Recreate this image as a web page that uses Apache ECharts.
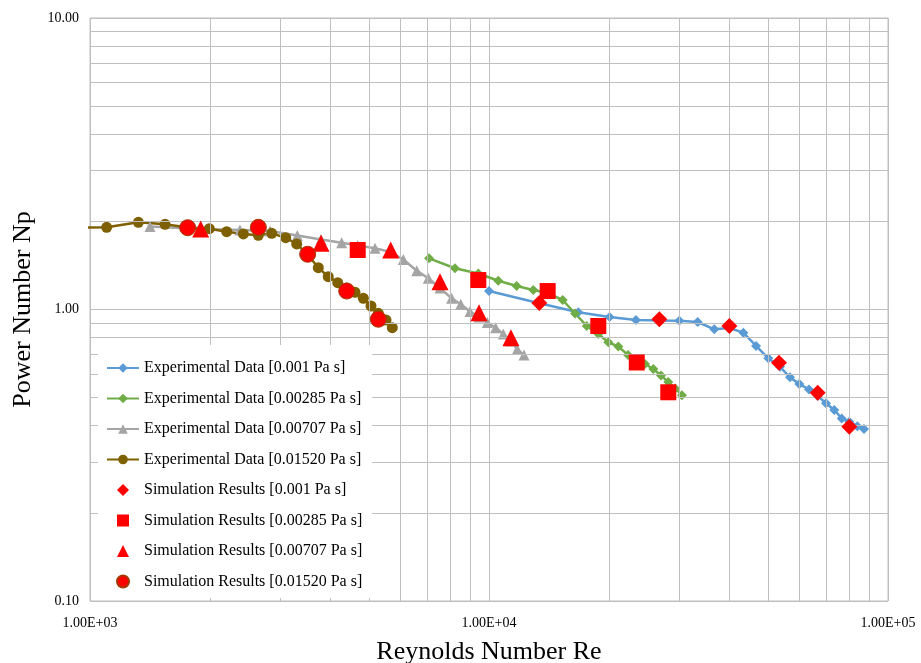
<!DOCTYPE html>
<html>
<head>
<meta charset="utf-8">
<script src="https://cdn.jsdelivr.net/npm/echarts@6/dist/echarts.min.js"></script>
<style>html,body{margin:0;padding:0;background:#fff}#c{width:921px;height:663px}</style>
</head>
<body>
<div id="c"></div>
<script>
// ---- data ----
const reExp001 = [10000,13370,16740,20050,23350,26730,29990,33350,36700,40030,43400,46700,50120,53620,56810,59950,63390,66650,69930,73340,76560,79990,83770,87060];
const npExp001 = [1.157,1.05,0.978,0.942,0.920,0.917,0.915,0.906,0.855,0.864,0.833,0.750,0.680,0.636,0.585,0.555,0.532,0.505,0.477,0.452,0.423,0.412,0.398,0.389];

const reExp00285 = [7075,8217,9402,10550,11730,12910,14030,15300,16430,17580,18790,19910,21100,22310,23460,24600,25810,26980,28140,29300,30450];
const npExp00285 = [1.498,1.385,1.329,1.255,1.204,1.167,1.139,1.078,0.969,0.878,0.824,0.772,0.746,0.698,0.671,0.650,0.625,0.594,0.564,0.536,0.508];

const reExp00707 = [1414,1887,2376,2826,3308,3793,4273,4688,5179,5671,6099,6590,7046,7537,8060,8495,8960,9439,9902,10390,10860,11350,11770,12240];
const npExp00707 = [1.926,1.889,1.874,1.859,1.794,1.739,1.695,1.658,1.622,1.575,1.484,1.359,1.280,1.185,1.092,1.042,0.984,0.943,0.902,0.866,0.824,0.780,0.730,0.698];

const reExp01520 = [881,1101,1322,1542,1760,1991,2201,2423,2642,2854,3094,3296,3519,3734,3955,4177,4399,4614,4842,5061,5280,5520,5723];
const npExp01520 = [1.91,1.914,1.991,1.960,1.911,1.893,1.849,1.816,1.797,1.825,1.763,1.678,1.538,1.391,1.296,1.236,1.185,1.146,1.093,1.028,0.970,0.920,0.866];

const reSim001 = [13370,26730,40030,53320,66650,79990];
const npSim001 = [1.053,0.926,0.878,0.657,0.518,0.396];

const reSim00285 = [4688,9402,14030,18790,23460,28140];
const npSim00285 = [1.600,1.262,1.157,0.878,0.658,0.520];

const reSim00707 = [1894,3793,5671,7537,9439,11350];
const npSim00707 = [1.889,1.687,1.600,1.246,0.975,0.800];

const reSim01520 = [1757,2642,3512,4399,5280];
const npSim01520 = [1.908,1.914,1.547,1.157,0.926];

const xMinorTicks = [2000,3000,4000,5000,6000,7000,8000,9000,20000,30000,40000,50000,60000,70000,80000,90000];
const yMinorTicks = [0.2,0.3,0.4,0.5,0.6,0.7,0.8,0.9,2,3,4,5,6,7,8,9];

const names = [
  'Experimental Data [0.001 Pa s]',
  'Experimental Data [0.00285 Pa s]',
  'Experimental Data [0.00707 Pa s]',
  'Experimental Data [0.01520 Pa s]',
  'Simulation Results [0.001 Pa s]',
  'Simulation Results [0.00285 Pa s]',
  'Simulation Results [0.00707 Pa s]',
  'Simulation Results [0.01520 Pa s]'
];

function zip(a, b) { return a.map((v, i) => [v, b[i]]); }

const FONT = '"Liberation Serif", "Times New Roman", serif';
const GRID = '#BFBFBF';

const ICONS = {
  diamond: 'path://M5,0L10,5L5,10L0,5Z',
  rect: 'path://M0,0L10,0L10,10L0,10Z',
  triangle: 'path://M5,0L10,10L0,10Z',
  circle: 'path://M5,0A5,5,0,1,1,5,10A5,5,0,1,1,5,0Z'
};

function expSeries(name, xs, ys, color, symbol, size) {
  return {
    name, type: 'line', data: zip(xs, ys), symbol, symbolSize: size,
    lineStyle: { color, width: 2.5 }, itemStyle: { color },
    z: 3, animation: false, clip: true
  };
}
function simSeries(name, xs, ys, symbol, size, border) {
  return {
    name, type: 'scatter', data: zip(xs, ys), symbol, symbolSize: size,
    itemStyle: { color: '#FF0000', borderColor: border || '#FF0000', borderWidth: border ? 1 : 0, opacity: 1 },
    z: 5, animation: false
  };
}

const chart = echarts.init(document.getElementById('c'));
chart.setOption({
  animation: false,
  backgroundColor: '#fff',
  grid: { left: 90, right: 33, top: 18, bottom: 62, show: true, borderColor: GRID, borderWidth: 1,
    containLabel: false, outerBoundsMode: 'none' },
  graphic: [{
    type: 'rect', left: 98, top: 345, z: 15, silent: true,
    shape: { width: 274, height: 253 }, style: { fill: '#fff' }
  }],
  xAxis: {
    type: 'log', logBase: 10, min: 1000, max: 100000, interval: 1,
    name: 'Reynolds Number Re', nameLocation: 'middle', nameGap: 38,
    nameTextStyle: { fontFamily: FONT, fontSize: 26, color: '#000' },
    axisLine: { show: false }, axisTick: { show: false },
    axisLabel: { fontFamily: FONT, fontSize: 14, color: '#000', margin: 15,
      formatter: v => { const e = Math.round(Math.log10(v)); const m = v / Math.pow(10, e); return m.toFixed(2) + 'E+' + (e < 10 ? '0' + e : e); } },
    splitLine: { show: true, lineStyle: { color: GRID, width: 1 } }
  },
  yAxis: {
    type: 'log', logBase: 10, min: 0.1, max: 10, interval: 1,
    name: 'Power Number Np', nameLocation: 'middle', nameGap: 36,
    nameTextStyle: { fontFamily: FONT, fontSize: 26, color: '#000' },
    axisLine: { show: false }, axisTick: { show: false },
    axisLabel: { fontFamily: FONT, fontSize: 14, color: '#000', margin: 11, formatter: v => v.toFixed(2) },
    splitLine: { show: true, lineStyle: { color: GRID, width: 1 } }
  },
  legend: {
    orient: 'vertical', left: 98, top: 342, z: 20,
    backgroundColor: 'rgba(0,0,0,0)', padding: [18, 10, 10, 8],
    itemGap: 14.5, itemWidth: 32, itemHeight: 12, symbolKeepAspect: true,
    textStyle: { fontFamily: FONT, fontSize: 16, color: '#000' },
    data: [
      { name: names[0] }, { name: names[1] }, { name: names[2] }, { name: names[3] },
      { name: names[4], icon: ICONS.diamond },
      { name: names[5], icon: ICONS.rect },
      { name: names[6], icon: ICONS.triangle },
      { name: names[7], icon: ICONS.circle }
    ]
  },
  series: [
    {
      name: 'grid-minor', type: 'line', data: [], z: 1, silent: true,
      markLine: {
        silent: true, symbol: 'none', label: { show: false }, animation: false,
        lineStyle: { color: GRID, width: 1, type: 'solid' },
        data: xMinorTicks.map(v => ({ xAxis: v })).concat(yMinorTicks.map(v => ({ yAxis: v })))
      }
    },
    expSeries(names[0], reExp001, npExp001, '#5B9BD5', 'diamond', 10),
    expSeries(names[1], reExp00285, npExp00285, '#70AD47', 'diamond', 10),
    expSeries(names[2], reExp00707, npExp00707, '#A5A5A5', 'triangle', 11),
    expSeries(names[3], reExp01520, npExp01520, '#7F6000', 'circle', 11),
    simSeries(names[4], reSim001, npSim001, 'diamond', 16),
    simSeries(names[5], reSim00285, npSim00285, 'rect', 16),
    simSeries(names[6], reSim00707, npSim00707, 'triangle', 17),
    simSeries(names[7], reSim01520, npSim01520, 'circle', 16, '#A33A00')
  ]
});
</script>
</body>
</html>
